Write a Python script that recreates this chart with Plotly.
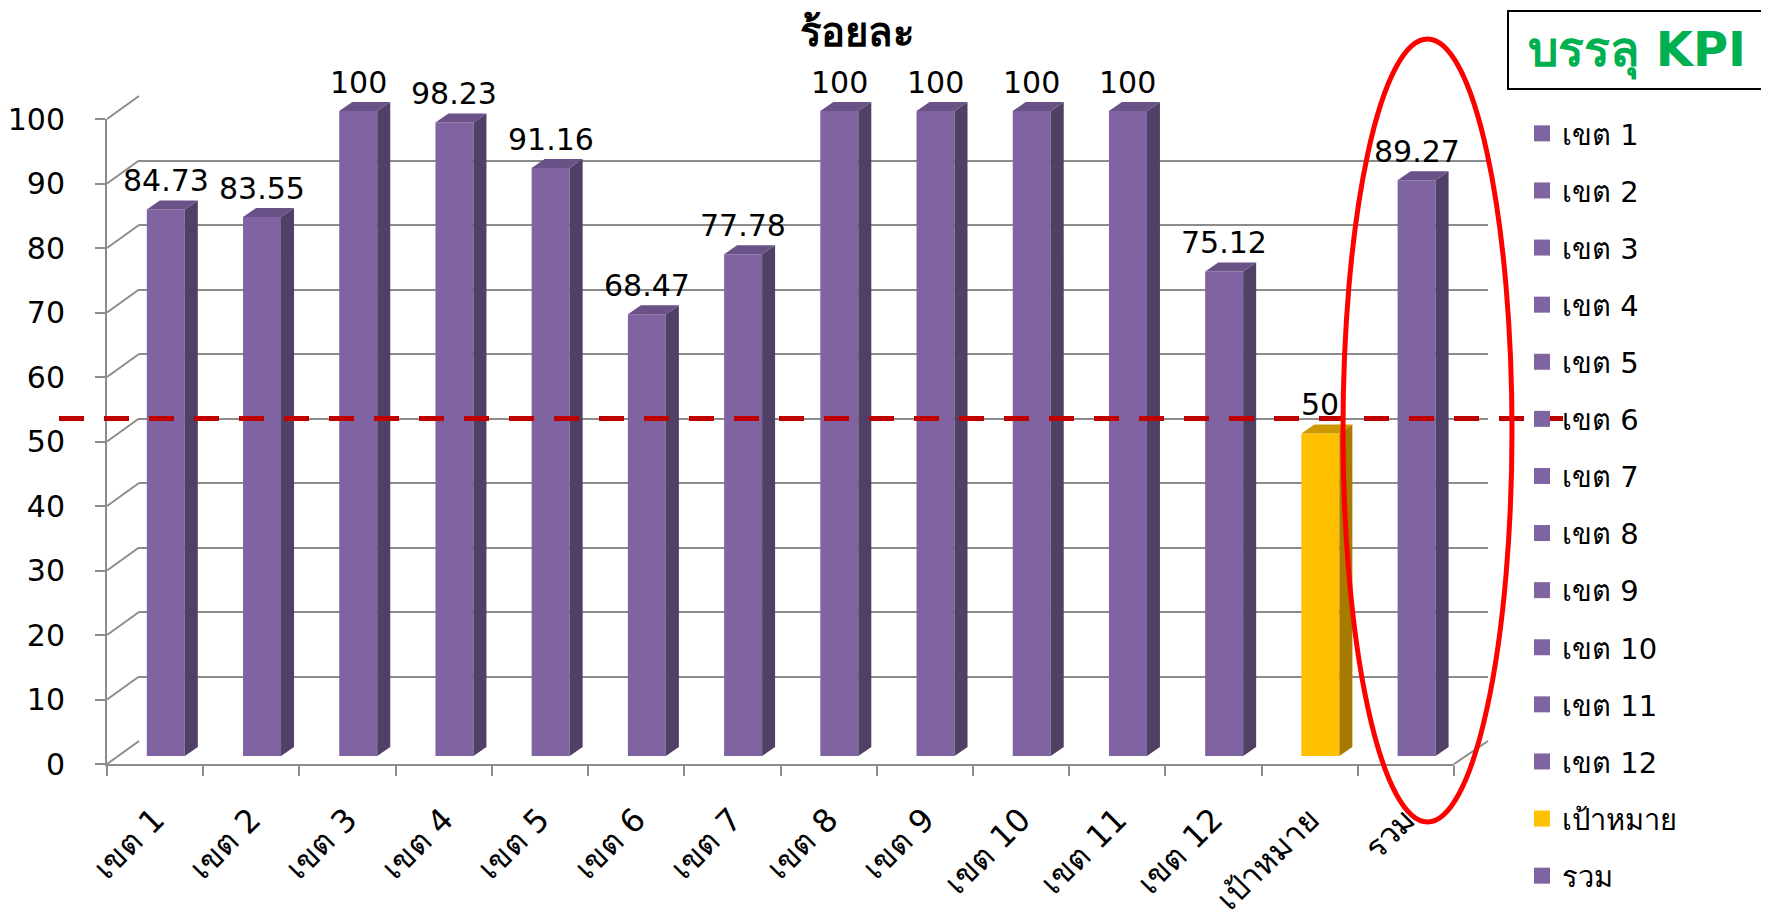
import plotly.graph_objects as go

# ---------------- data ----------------
categories = ["เขต 1", "เขต 2", "เขต 3", "เขต 4", "เขต 5", "เขต 6", "เขต 7",
              "เขต 8", "เขต 9", "เขต 10", "เขต 11", "เขต 12", "เป้าหมาย", "รวม"]
values = [84.73, 83.55, 100, 98.23, 91.16, 68.47, 77.78,
          100, 100, 100, 100, 75.12, 50, 89.27]
value_labels = ["84.73", "83.55", "100", "98.23", "91.16", "68.47", "77.78",
                "100", "100", "100", "100", "75.12", "50", "89.27"]
y_ticks = list(range(0, 101, 10))
target_category = "เป้าหมาย"
target_line_value = 50
title_text = "ร้อยละ"
kpi_text = "บรรลุ KPI"

# ---------------- styling ----------------
PURPLE = ("#8064A2", "#6A5188", "#504066")   # front, top, side
YELLOW = ("#FFC000", "#CC9A00", "#A67C00")
GRID = "#8C8C8C"
FONT = "Tahoma, 'DejaVu Sans', 'Noto Sans', sans-serif"

W, H = 1769, 916
OFF = 8                              # page offset of the figure (body margin)
AX_L, AX_R, AX_B, AX_T = 107, 1454, 764, 119   # front plane in page px
DEPTH_X, DEPTH_Y = 32, 23            # back wall offset (px)
BAR_DX, BAR_DY = 10.7, 8             # bar plane offset (px)
SIDE_DX, SIDE_DY = 13, 9             # bar depth (px)
n = len(categories)
cat_px = (AX_R - AX_L) / n
unit_px = (AX_B - AX_T) / 100
bar_w = 38 / cat_px
side_dx = SIDE_DX / cat_px
side_dy = SIDE_DY / unit_px
Y3_MAX = 115


def px_x(x):
    return (x - OFF) / W


def px_y(y):
    return (H + OFF - y) / H


def colset(c):
    return YELLOW if c == target_category else PURPLE


fig = go.Figure()

# back wall subplot holder
fig.add_trace(go.Scatter(x=[None], y=[None], xaxis="x2", yaxis="y2",
                         showlegend=False, hoverinfo="skip"))

# front faces
fig.add_trace(go.Bar(
    x=list(range(n)), y=values, width=bar_w,
    marker=dict(color=[colset(c)[0] for c in categories], line=dict(width=0)),
    xaxis="x3", yaxis="y3", showlegend=False, hoverinfo="skip"))

# side and top faces computed from the values
for cs in (PURPLE, YELLOW):
    sx, sy, tx, ty = [], [], [], []
    for i, (c, v) in enumerate(zip(categories, values)):
        if colset(c) is not cs:
            continue
        xr = i + bar_w / 2
        xl = i - bar_w / 2
        sx += [xr, xr + side_dx, xr + side_dx, xr, xr, None]
        sy += [0, side_dy, v + side_dy, v, 0, None]
        tx += [xl, xl + side_dx, xr + side_dx, xr, xl, None]
        ty += [v, v + side_dy, v + side_dy, v, v, None]
    fig.add_trace(go.Scatter(x=sx, y=sy, fill="toself", fillcolor=cs[2], mode="lines",
                             line=dict(width=0, color=cs[2]), xaxis="x3", yaxis="y3",
                             showlegend=False, hoverinfo="skip"))
    fig.add_trace(go.Scatter(x=tx, y=ty, fill="toself", fillcolor=cs[1], mode="lines",
                             line=dict(width=0, color=cs[1]), xaxis="x3", yaxis="y3",
                             showlegend=False, hoverinfo="skip"))

# legend entries
for c in categories:
    fig.add_trace(go.Scatter(
        x=[None], y=[None], mode="markers", name=c, legendgroup=c,
        marker=dict(symbol="square", size=17, color=colset(c)[0]),
        xaxis="x", yaxis="y"))

# value labels
annotations = []
for i, (v, t) in enumerate(zip(values, value_labels)):
    annotations.append(dict(x=i, y=v + side_dy, xref="x3", yref="y3", text=t,
                            showarrow=False, yanchor="bottom", yshift=0,
                            font=dict(size=30, color="black", family=FONT)))
annotations.append(dict(x=px_x(857), y=1, xref="paper", yref="paper",
                        text="<b>" + title_text + "</b>", showarrow=False,
                        yanchor="top", borderpad=0,
                        font=dict(size=40, color="black", family=FONT)))
annotations.append(dict(x=px_x(1637), y=px_y(50), xref="paper", yref="paper",
                        text="<b>" + kpi_text + "</b>", showarrow=False,
                        yanchor="middle", xanchor="center",
                        font=dict(size=48, color="#00B050", family=FONT)))

# shapes: wall connectors, target line, ellipse, KPI box
shapes = []
for t in y_ticks:
    yf = AX_B - t * unit_px
    shapes.append(dict(type="line", xref="paper", yref="paper", layer="below",
                       x0=px_x(AX_L), y0=px_y(yf), x1=px_x(AX_L + DEPTH_X),
                       y1=px_y(yf - DEPTH_Y), line=dict(color=GRID, width=2)))
shapes.append(dict(type="line", xref="paper", yref="paper", layer="below",
                   x0=px_x(AX_R), y0=px_y(AX_B), x1=px_x(AX_R + DEPTH_X + 2),
                   y1=px_y(AX_B - DEPTH_Y), line=dict(color=GRID, width=2)))
ty_line = px_y(AX_B - DEPTH_Y - target_line_value * unit_px)
shapes.append(dict(type="line", xref="paper", yref="paper", layer="above",
                   x0=px_x(59), x1=px_x(1563), y0=ty_line, y1=ty_line,
                   line=dict(color="#C00000", width=5, dash="25px,20px")))
shapes.append(dict(type="circle", xref="paper", yref="paper", layer="above",
                   x0=px_x(1343), x1=px_x(1512), y0=px_y(822), y1=px_y(39),
                   line=dict(color="#FF0000", width=5)))
shapes.append(dict(type="rect", xref="paper", yref="paper", layer="above",
                   x0=px_x(1508), x1=px_x(1767), y0=px_y(89), y1=px_y(11),
                   line=dict(color="black", width=2)))

axis_common = dict(range=[-0.5, n - 0.5], fixedrange=True, automargin=False)
hidden = dict(showgrid=False, zeroline=False, showline=False,
              showticklabels=False, ticks="")

fig.update_layout(
    template="none",
    width=W, height=H,
    margin=dict(l=0, r=0, t=0, b=0, pad=0, autoexpand=False),
    paper_bgcolor="white", plot_bgcolor="rgba(0,0,0,0)",
    font=dict(family=FONT, color="black"),
    barmode="overlay",
    showlegend=True,
    legend=dict(x=px_x(1522), y=px_y(108), xanchor="left", yanchor="top",
                font=dict(size=29, family=FONT, color="black"),
                tracegroupgap=16.4, itemwidth=30, traceorder="grouped",
                bgcolor="rgba(0,0,0,0)", borderwidth=0),
    xaxis=dict(domain=[px_x(AX_L), px_x(AX_R)], anchor="y", **axis_common,
               showgrid=False, zeroline=False,
               showline=True, linecolor=GRID, linewidth=2,
               tickmode="array", tickvals=list(range(n)), ticktext=categories,
               tickangle=-45, ticks="outside", ticklen=10, tickcolor="rgba(0,0,0,0)",
               ticklabelstandoff=12,
               tickfont=dict(size=32, family=FONT, color="black"),
               minor=dict(tickmode="array", tickvals=[i - 0.5 for i in range(n + 1)],
                          ticks="outside", ticklen=10, tickwidth=2, tickcolor=GRID,
                          showgrid=False)),
    yaxis=dict(domain=[px_y(AX_B), px_y(AX_T)], anchor="x", range=[0, 100],
               fixedrange=True, automargin=False, showgrid=False, zeroline=False,
               showline=True, linecolor=GRID, linewidth=2,
               tickmode="array", tickvals=y_ticks,
               ticks="outside", ticklen=10, tickwidth=2, tickcolor=GRID,
               ticklabelstandoff=24,
               tickfont=dict(size=30, family=FONT, color="black")),
    xaxis2=dict(domain=[px_x(AX_L + DEPTH_X), px_x(AX_R + DEPTH_X + 2)], anchor="y2",
                **axis_common, **hidden),
    yaxis2=dict(domain=[px_y(AX_B - DEPTH_Y), px_y(AX_T - DEPTH_Y)], anchor="x2",
                range=[0, 100], fixedrange=True, automargin=False,
                showgrid=True, gridcolor=GRID, gridwidth=2, zeroline=False,
                showline=False, showticklabels=False, ticks="",
                tickmode="array", tickvals=y_ticks),
    xaxis3=dict(domain=[px_x(AX_L + BAR_DX), px_x(AX_R + BAR_DX)], anchor="y3",
                **axis_common, **hidden),
    yaxis3=dict(domain=[px_y(AX_B - BAR_DY), px_y(AX_B - BAR_DY - Y3_MAX * unit_px)],
                anchor="x3", range=[0, Y3_MAX], fixedrange=True, automargin=False,
                **hidden),
    annotations=annotations,
    shapes=shapes,
)

fig.write_html("out.html")
